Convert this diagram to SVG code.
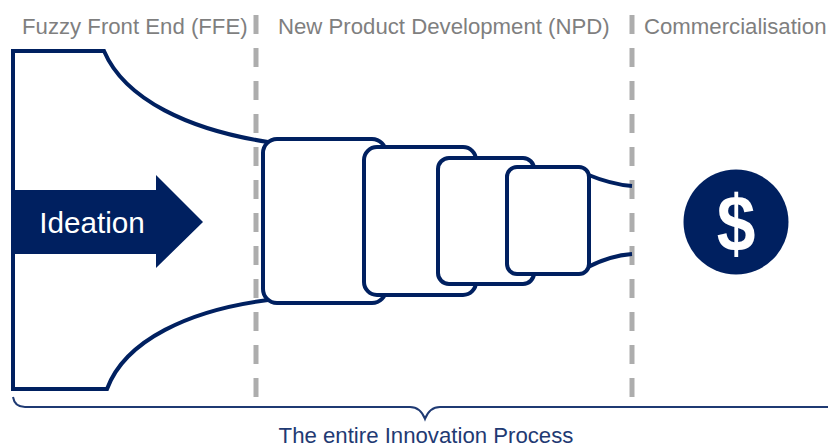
<svg xmlns="http://www.w3.org/2000/svg" width="828" height="448" viewBox="0 0 828 448">
<style>
.hd{font:22.2px "Liberation Sans",Arial,sans-serif;fill:#7f7f7f}
.ln{fill:none;stroke:#002060;stroke-width:4}
.st{fill:#fff;stroke:#002060;stroke-width:4}
.dv{stroke:#adadad;stroke-width:5;stroke-dasharray:19 14;fill:none}
</style>
<rect width="828" height="448" fill="#fff"/>
<g id="dividers">
<path class="dv" d="M256 15V397"/>
<path class="dv" d="M632 15V397"/>
</g>
<g id="connectors">
<path class="ln" d="M268 142C190 130 125 100 104 51H13V389H107C125 340 190 310 268 300"/>
<path class="ln" d="M586 174C603 181 617 185 632 186"/>
<path class="ln" d="M586 268C603 259 617 255 632 254"/>
<path fill="none" stroke="#1f3a73" stroke-width="2" d="M13 397C14 403 18 407 25 407H410C417 407 422 411 425 419C428 411 433 407 440 407H828"/>
</g>
<g id="stage1"><rect class="st" x="263" y="139" width="123" height="164" rx="14"/></g>
<g id="stage2"><rect class="st" x="364" y="147" width="112" height="148" rx="13"/></g>
<g id="stage3"><rect class="st" x="438" y="158" width="96" height="126" rx="11"/></g>
<g id="stage4"><rect class="st" x="507" y="167" width="82" height="107" rx="10"/></g>
<g id="ideation">
<path fill="#002060" d="M13 190H156V175L203 222L156 268V254H13Z"/>
<text x="92" y="233" text-anchor="middle" font-family="Liberation Sans,Arial,sans-serif" font-size="29.7" fill="#fff">Ideation</text>
</g>
<g id="money">
<circle cx="736" cy="222" r="52.5" fill="#002060"/>
<text transform="translate(736 251) scale(.87 1)" text-anchor="middle" font-family="Liberation Sans,Arial,sans-serif" font-weight="700" font-size="80" fill="#fff">$</text>
</g>
<g id="labels">
<text class="hd" x="22" y="34">Fuzzy Front End (FFE)</text>
<text class="hd" x="278" y="34">New Product Development (NPD)</text>
<text class="hd" x="644" y="34">Commercialisation</text>
<text x="426" y="443" text-anchor="middle" font-family="Liberation Sans,Arial,sans-serif" font-size="22.2" fill="#1f3a73">The entire Innovation Process</text>
</g>
</svg>
